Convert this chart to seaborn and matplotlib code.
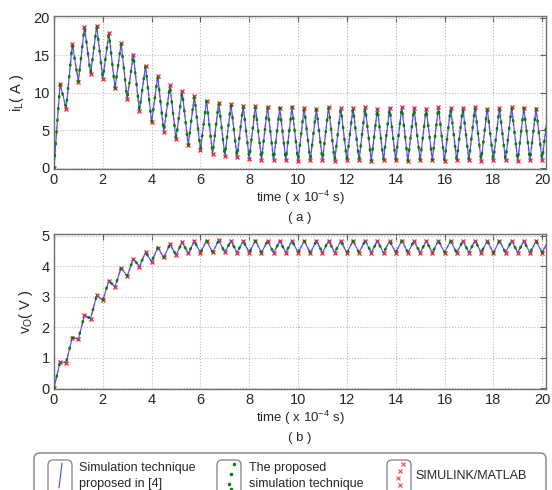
import numpy as np
import pandas as pd
import matplotlib
matplotlib.use("Agg")
import matplotlib.pyplot as plt
import seaborn as sns
from matplotlib.patches import FancyBboxPatch

# switching instants (x 10^-4 s), one vertex every quarter period
t_vertex = np.arange(0, 20.26, 0.25)

# inductor current vertices (A)
iL_vertex = [
    0.0, 11.2, 7.9, 16.5, 11.5, 18.8, 12.5, 18.9, 11.9, 18.0,
    10.6, 16.6, 9.2, 15.1, 7.6, 13.6, 6.1, 12.2, 4.8, 11.0,
    3.8, 10.2, 3.0, 9.6, 2.4, 8.9, 1.9, 8.7, 1.6, 8.5,
    1.4, 8.3, 1.2, 8.2, 1.1, 8.1, 1.0, 8.0, 1.0, 8.1,
    0.9, 8.0, 1.0, 7.9, 1.0, 8.1, 0.9, 8.0, 1.0, 8.0,
    1.0, 8.1, 0.9, 7.9, 1.0, 8.0, 1.0, 8.1, 0.9, 8.0,
    1.0, 7.9, 1.0, 8.1, 0.9, 8.0, 1.0, 8.0, 1.0, 8.1,
    0.9, 7.9, 1.0, 8.0, 1.0, 8.1, 0.9, 8.0, 1.0, 7.9,
    1.0, 8.0,
]

# output voltage vertices (V)
vo_vertex = [
    0.0, 0.86, 0.84, 1.66, 1.61, 2.40, 2.28, 3.04, 2.88, 3.53,
    3.32, 3.95, 3.68, 4.25, 3.99, 4.46, 4.15, 4.61, 4.29, 4.72,
    4.37, 4.79, 4.42, 4.82, 4.45, 4.84, 4.46, 4.85, 4.46, 4.84,
    4.45, 4.83, 4.45, 4.84, 4.45, 4.83, 4.44, 4.83, 4.45, 4.84,
    4.45, 4.83, 4.44, 4.83, 4.45, 4.84, 4.45, 4.83, 4.44, 4.83,
    4.45, 4.84, 4.45, 4.83, 4.44, 4.83, 4.45, 4.84, 4.45, 4.83,
    4.44, 4.83, 4.45, 4.84, 4.45, 4.83, 4.44, 4.83, 4.45, 4.84,
    4.45, 4.83, 4.44, 4.83, 4.45, 4.84, 4.45, 4.83, 4.44, 4.83,
    4.45, 4.84,
]

legend_labels = ["Simulation technique\nproposed in [4]",
                 "The proposed\nsimulation technique",
                 "SIMULINK/MATLAB"]

df = pd.DataFrame({"t": t_vertex, "iL": iL_vertex, "vo": vo_vertex})

sns.set_style("white")
plt.rcParams["font.family"] = ["Liberation Sans", "DejaVu Sans"]
plt.rcParams["mathtext.default"] = "regular"

fig = plt.figure(figsize=(5.52, 4.90), dpi=100)
ax1 = fig.add_axes([0.0978, 0.6545, 0.891, 0.3135])
ax2 = fig.add_axes([0.0978, 0.2055, 0.891, 0.317])


def draw(ax, col):
    # SIMULINK/MATLAB (red x)
    sns.lineplot(data=df, x="t", y=col, ax=ax, estimator=None, sort=False,
                 color="#ffa0a0", linestyle=(0, (1.5, 2.5)), lw=1.4,
                 marker="x", markersize=3.5, mec="#ff3030", mew=1.0, zorder=2)
    # technique of [4] (blue line)
    sns.lineplot(data=df, x="t", y=col, ax=ax, estimator=None, sort=False,
                 color="#4a4aff", lw=0.8, zorder=3)
    # proposed technique (green dots)
    sns.lineplot(data=df, x="t", y=col, ax=ax, estimator=None, sort=False,
                 color="#008000", linestyle=(0, (0.5, 4.2)), lw=1.8,
                 dash_capstyle="round", zorder=4)


draw(ax1, "iL")
draw(ax2, "vo")

for ax in (ax1, ax2):
    ax.set_xlim(0, 20.15)
    ax.set_xticks(range(0, 21, 2))
    ax.grid(True, linestyle=":", color="#b8b8b8", lw=0.8)
    ax.tick_params(direction="in", length=4, top=True, right=True,
                   labelsize=10.5, color="#606060", pad=3)
    for s in ax.spines.values():
        s.set_color("#707070")
        s.set_linewidth(1.0)
    ax.set_xlabel("time ( x 10$^{-4}$ s)", fontsize=9.5, labelpad=1)

ax1.set_ylim(-0.2, 20.3)
ax1.set_yticks([0, 5, 10, 15, 20])
ax1.set_ylabel("i$_L$( A )", fontsize=10.5, labelpad=5)
ax1.text(0.5, -0.32, "( a )", transform=ax1.transAxes, ha="center",
         va="center", fontsize=9.5)

ax2.set_ylim(-0.04, 5.06)
ax2.set_yticks([0, 1, 2, 3, 4, 5])
ax2.set_ylabel("v$_O$( V )", fontsize=10.5, labelpad=5)
ax2.text(0.5, -0.315, "( b )", transform=ax2.transAxes, ha="center",
         va="center", fontsize=9.5)

# legend box drawn in pixel coordinates
lax = fig.add_axes([0, 0, 1, 1], zorder=5)
lax.set_xlim(0, 552)
lax.set_ylim(490, 0)
lax.axis("off")
lax.add_patch(FancyBboxPatch((34, 453), 512, 60,
                             boxstyle="round,pad=0,rounding_size=6",
                             fc="white", ec="#808080", lw=1.0))
for hx in (48, 217, 387):
    lax.add_patch(FancyBboxPatch((hx, 460), 24, 40,
                                 boxstyle="round,pad=0,rounding_size=5",
                                 fc="white", ec="#808080", lw=0.9))
lax.plot([62, 59], [463, 488], color="#4a4aff", lw=0.8)
lax.plot([234, 231, 229, 231], [464, 474, 484, 489], ls="none",
         marker=".", ms=3, color="#008000")
lax.plot([403, 400, 398, 400], [464, 471, 478, 485], ls="none",
         marker="x", ms=3, mew=0.8, color="#ff4040")
lax.text(79, 476, legend_labels[0], ha="left", va="center", fontsize=9,
         linespacing=1.35)
lax.text(249, 476, legend_labels[1], ha="left", va="center", fontsize=9,
         linespacing=1.35)
lax.text(415, 476, legend_labels[2], ha="left", va="center", fontsize=9)

fig.savefig("out.png", dpi=100)
